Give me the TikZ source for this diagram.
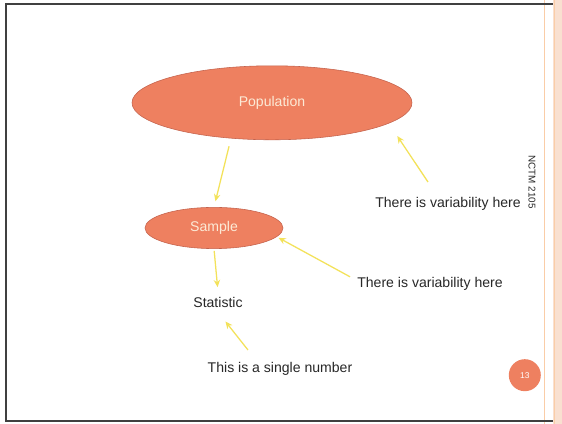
\documentclass[tikz,border=0pt]{standalone}
\usepackage{fontspec}
\setmainfont{Liberation Sans}
\usepackage{tikz}
\usetikzlibrary{arrows.meta,positioning,shapes.geometric}
\definecolor{slcoral}{RGB}{238,128,96}
\definecolor{sledge}{RGB}{196,98,76}
\definecolor{slyel}{RGB}{243,226,90}
\definecolor{sltext}{RGB}{40,40,40}
\definecolor{slpeach}{RGB}{249,224,208}
\definecolor{slcream}{RGB}{252,234,214}
\tikzset{
  blob/.style={ellipse, fill=slcoral, draw=sledge, thin, inner sep=0pt,
      font=\fontsize{10}{12}\selectfont, text=slcream},
  lbl/.style={font=\fontsize{10}{12}\selectfont, text=sltext},
  yarr/.style={-{Stealth[length=1.8mm,width=1.6mm]}, slyel, line width=0.9pt},
  frm/.style={draw=black!75, line width=1.3pt},
}
\begin{document}
\begin{tikzpicture}
\useasboundingbox (0,0) rectangle (14.05,10.6);
\fill[white] (0,0) rectangle (14.05,10.6);
% slide frame and side strip
\fill[slpeach] (13.82,0) rectangle (14.05,10.6);
\draw[slpeach!80!orange, line width=0.6pt] (13.6,0) -- (13.6,10.6) (13.86,0) -- (13.86,10.6);
\draw[frm] (13.82,10.5) -- (0.14,10.5) -- (0.14,0.08) -- (13.82,0.08);

\node[blob, minimum width=7cm, minimum height=1.85cm] (pop) at (6.8,8.03) {Population};
\node[blob, minimum width=3.45cm, minimum height=1.03cm] (sample) at (5.35,4.9) {Sample};
\node[lbl] (stat) at (5.45,3.05) {Statistic};

\node[lbl] (var1) at (11.2,5.5) {There is variability here};
\node[lbl] (var2) at (10.75,3.5) {There is variability here};
\node[lbl] (single) at (7.0,1.38) {This is a single number};

\coordinate (v1tail) at (10.7,6.05);
\coordinate (v2tail) at (8.75,3.68);
\coordinate (s3tail) at (6.2,1.85);

\draw[yarr, shorten <=0.2cm, shorten >=0.15cm] (pop.221) -- (sample.north);
\draw[yarr, shorten <=0.05cm, shorten >=0.12cm] (sample.south) -- (stat.north);
\draw[yarr, shorten >=0.38cm] (v1tail) -- (pop.-10);
\draw[yarr, shorten >=0.05cm] (v2tail) -- (sample.-8);
\draw[yarr, shorten >=0.3cm] (s3tail) -- (stat.south);

% page number and side tag
\node[circle, fill=slcoral, minimum size=0.8cm, inner sep=0pt, text=white,
  font=\fontsize{6}{7}\selectfont] (pageno) at (13.12,1.22) {13};
\node[rotate=-90, font=\fontsize{7}{8}\selectfont, text=sltext] (tag) at (13.3,6.05) {NCTM 2105};
\end{tikzpicture}
\end{document}
